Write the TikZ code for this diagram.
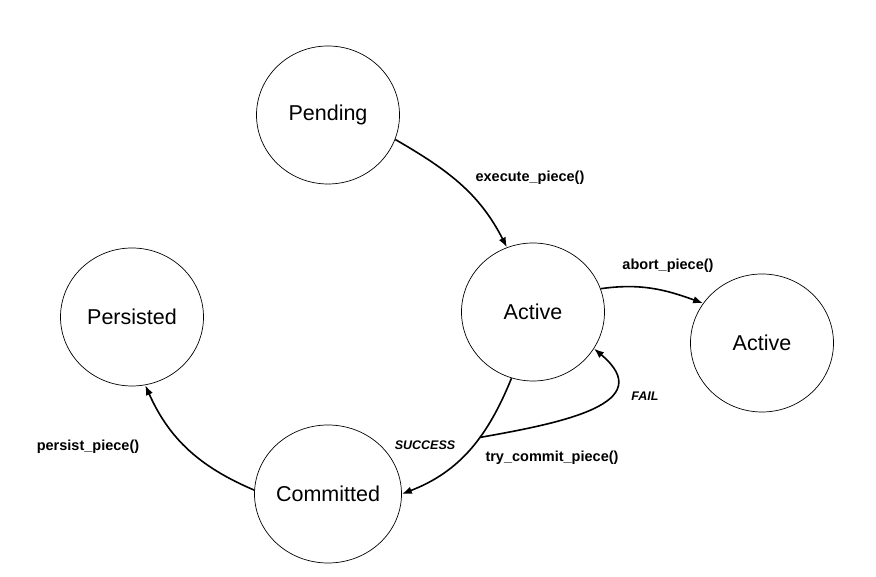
\documentclass[tikz,border=0pt]{standalone}
\usepackage{fontspec}
\setmainfont{Liberation Sans}
\usetikzlibrary{arrows.meta,shapes.geometric}

\begin{document}
\begin{tikzpicture}[x=1pt,y=1pt,
        state/.style={draw,ellipse,line width=0.7pt,minimum width=143pt,minimum height=138pt,inner sep=0pt,font=\fontsize{21.5}{25}\selectfont},
        trans/.style={-{Latex[length=10pt,width=7.5pt]},line width=1.6pt},
        lbl/.style={font=\fontsize{14.5}{17}\selectfont\bfseries},
        cond/.style={font=\fontsize{12.5}{15}\selectfont\bfseries\itshape}]
        \useasboundingbox (0,0) rectangle (876,577);
        \node[state] (pending) at (328,462) {Pending};
        \node[state] (active) at (533,265) {Active};
        \node[state] (aborted) at (762,234) {Active};
        \node[state] (persisted) at (132,260) {Persisted};
        \node[state] (committed) at (328,83) {Committed};
        \draw[trans] (pending.-20) to[out=-30,in=117] (active.112);
        \draw[trans] (active.19) to[out=8,in=160] (aborted.146);
        \draw[trans] (active.-108) to[out=-112,in=21] coordinate[pos=0.4] (split) (committed.0);
        \draw[trans] (split) to[out=10,in=-40,looseness=1.5] (active.-31);
        \draw[trans] (committed.177) to[out=157,in=-66] (persisted.-79);
        \node[lbl] (exec) at (530,399) {execute\_piece()};
        \node[lbl] (abort) at (668,311) {abort\_piece()};
        \node[cond] (fail) at (645,181) {FAIL};
        \node[cond] (success) at (425,132) {SUCCESS};
        \node[lbl] (trycommit) at (552,119) {try\_commit\_piece()};
        \node[lbl] (persist) at (88,130) {persist\_piece()};
    \end{tikzpicture}
\end{document}
